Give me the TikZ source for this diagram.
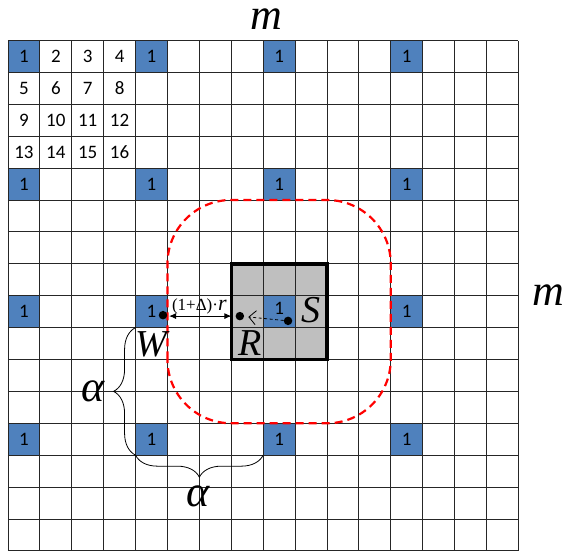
\documentclass[tikz,border=0pt]{standalone}
\usepackage{fontspec}
\setmainfont{Liberation Serif}
\newfontfamily\cellfont{Carlito}
\usetikzlibrary{arrows.meta,decorations.pathreplacing}
\definecolor{cellblue}{HTML}{4F81BD}
\tikzset{
  bluecell/.style={fill=cellblue},
  celltext/.style={font=\cellfont\fontsize{19}{19}\selectfont},
  bigletter/.style={font=\fontsize{38}{38}\selectfont\itshape,inner sep=0pt},
  hugeletter/.style={font=\fontsize{44}{44}\selectfont\itshape,inner sep=0pt},
  blackdot/.style={circle,fill=black,inner sep=0pt,minimum size=8.5pt},
  bracestyle/.style={decorate,decoration={brace,amplitude=22pt},line width=0.8pt}
}
\begin{document}
\begin{tikzpicture}[x=31.9pt,y=31.9pt]
  \useasboundingbox (-0.25,-0.03) rectangle (17.62,17.27);
  \fill[black!25] (7,6) rectangle (10,9);
  \foreach \c in {0,4,8,12}
    \foreach \r in {0,4,8,12} {
      \fill[bluecell] (\c,15-\r) rectangle ++(1,1);
      \pgfmathsetmacro\lift{and(\c==8,\r==8)*0.1}
      \node[celltext] (one-\c-\r) at (\c+0.5,15.5-\r+\lift) {1};
    }
  \foreach \r in {0,...,3}
    \foreach \c in {0,...,3} {
      \pgfmathtruncatemacro\n{4*\r+\c+1}
      \ifnum\n>1 \node[celltext] (num-\n) at (\c+0.5,15.5-\r) {\n}; \fi
    }
  \draw[step=1,black!85,line width=0.9pt] (0,0) grid (16,16);
  \draw[line width=3.5pt] (7,6) rectangle (10,9);
  \draw[red,line width=2.2pt,dash pattern=on 8pt off 5pt,rounded corners=63.8pt] (5,4) rectangle (12,11);

  \node[blackdot] (w) at (4.86,7.39) {};
  \node[blackdot] (r) at (7.27,7.36) {};
  \node[blackdot] (s) at (8.78,7.21) {};
  \coordinate (wedge) at (5.05,7.36);
  \draw[{Latex[length=7pt,width=6pt]}-{Latex[length=7pt,width=6pt]},line width=0.9pt] (wedge) -- ([xshift=-4pt]r.west);
  \node[font=\fontsize{17}{17}\selectfont] (gap) at (6.0,7.66) {(1+Δ)·\textit{\fontsize{22}{22}\selectfont r}};
  \draw[line width=0.8pt,dash pattern=on 3pt off 2.5pt,-{Straight Barb[length=7pt,width=14pt]},shorten >=4pt] (s) -- (r);

  \node[bigletter] (s-label) at (9.5,7.55) {S};
  \node[bigletter] (r-label) at (7.59,6.52) {R};
  \node[bigletter] (w-label) at (4.48,6.49) {W};
  \node[hugeletter] (m-top) at (8.1,16.68) {m};
  \node[hugeletter] (m-right) at (16.93,8.02) {m};

  \coordinate (a0) at (4,3);
  \coordinate (a1) at (4,7);
  \coordinate (a2) at (8,3);
  \draw[bracestyle] (a0) -- (a1);
  \draw[bracestyle] (a2) -- (a0);
  \node[hugeletter] (alpha-left) at (2.66,5.0) {α};
  \node[hugeletter] (alpha-bottom) at (5.96,1.72) {α};
\end{tikzpicture}
\end{document}
